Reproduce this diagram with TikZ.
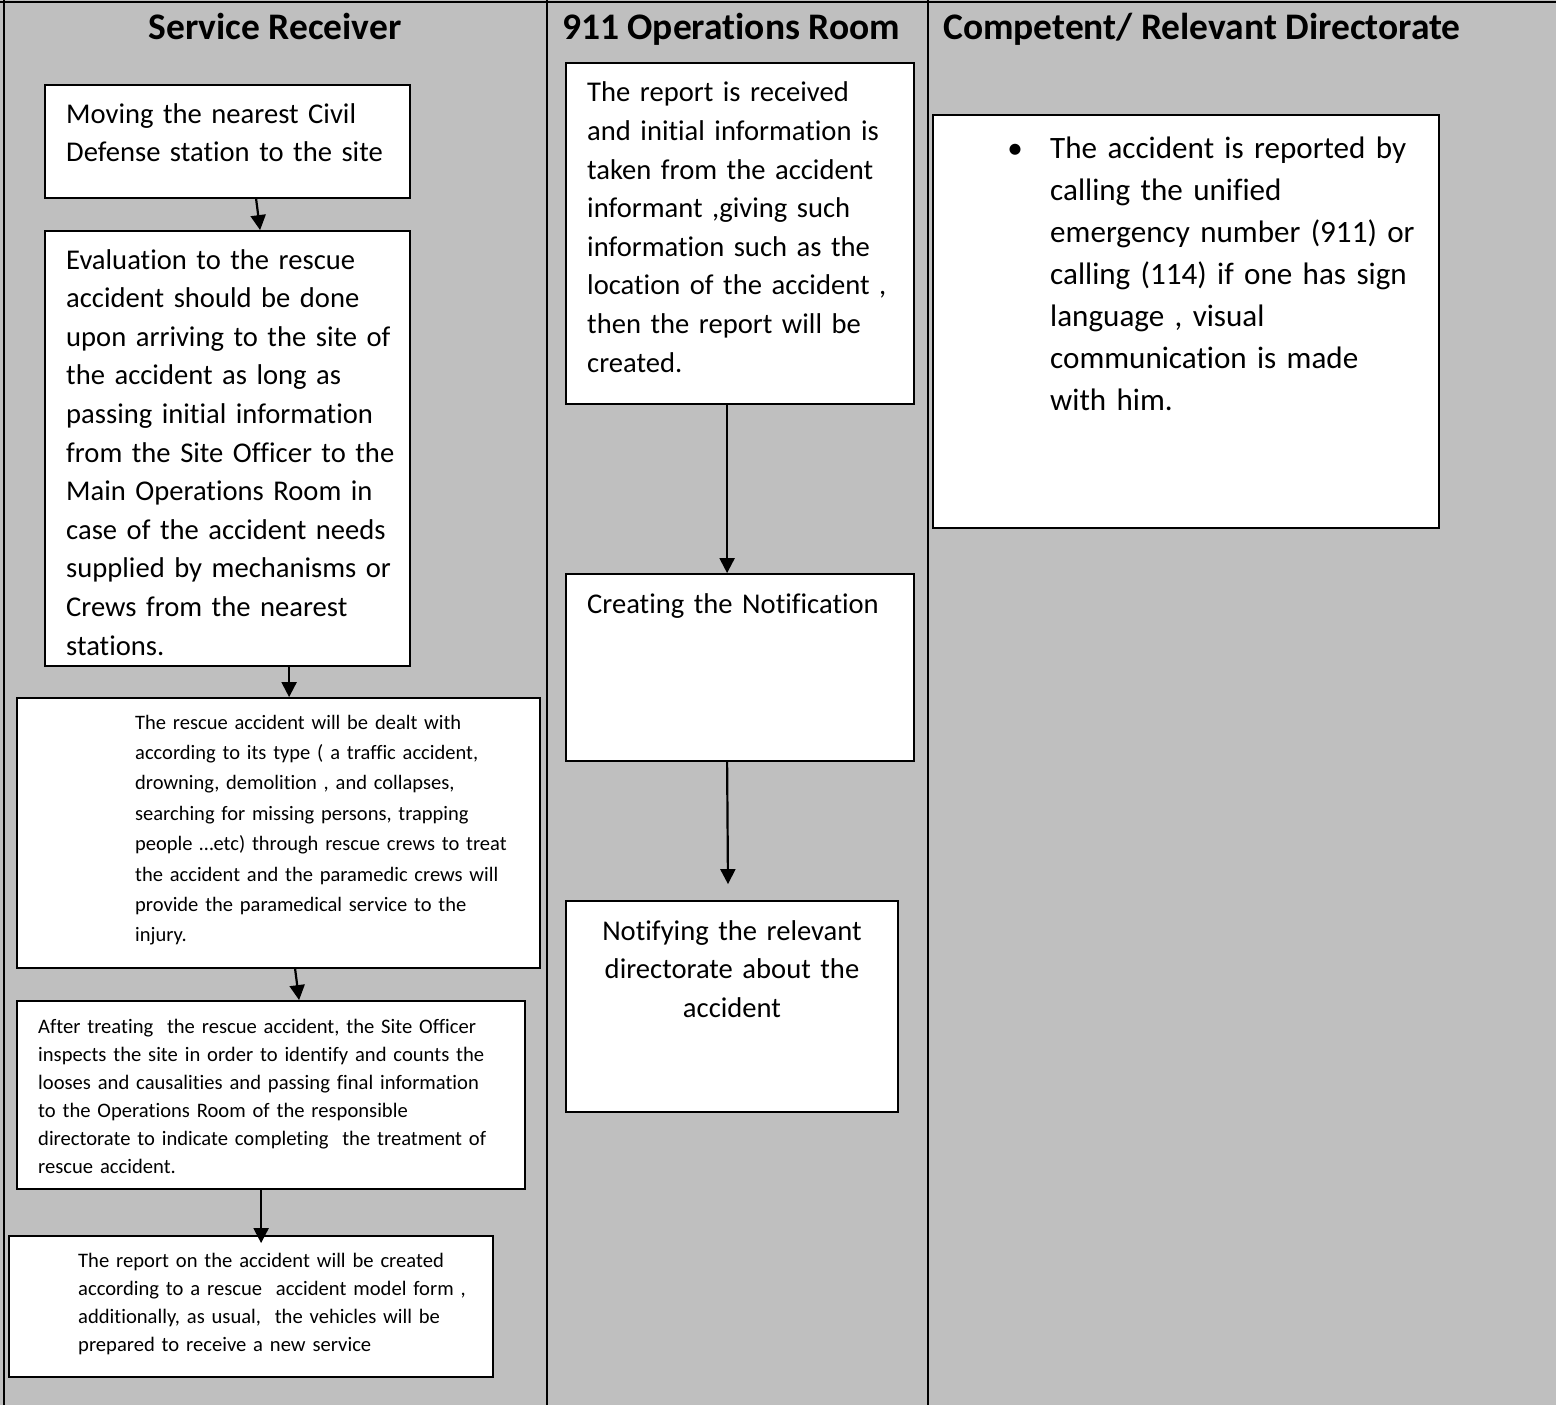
\documentclass[tikz,border=0pt]{standalone}
\usepackage{fontspec}
\setmainfont{Carlito}[Ligatures={NoCommon}]
\usetikzlibrary{arrows.meta,fit,calc}

\definecolor{lanegray}{RGB}{191,191,191}

\begin{document}
\begin{tikzpicture}[x=1pt,y=-1pt,
  lane/.style={draw=black,line width=2.6pt},
  procbox/.style={draw=black,line width=1.8pt,fill=white,inner sep=0pt},
  heading/.style={font=\fontsize{37.5}{44}\selectfont\bfseries,anchor=base,inner sep=0pt},
  bigtxt/.style={font=\fontsize{28.6}{38.6}\selectfont,anchor=base west,inner sep=0pt,align=left,text width=420pt},
  listtxt/.style={font=\fontsize{31.1}{42}\selectfont,anchor=base west,inner sep=0pt,align=left,text width=420pt},
  smalltxt/.style={font=\fontsize{20.5}{30.4}\selectfont,anchor=base west,inner sep=0pt,align=left,text width=500pt},
  smalltxtb/.style={font=\fontsize{20.6}{28}\selectfont,anchor=base west,inner sep=0pt,align=left,text width=500pt},
  flow/.style={draw=black,line width=2.2pt,-{Triangle[width=15pt,length=15pt]}}
]
% page and lane background
\useasboundingbox (0,0) rectangle (1556,1405);
\fill[lanegray] (0,0) rectangle (1556,1405);

% lane borders
\draw[lane] (0,2) -- (1556,2);
\draw[lane] (4,0) -- (4,1405);
\draw[lane] (547,0) -- (547,1405);
\draw[lane] (928,0) -- (928,1405);

% lane headings
\node[heading] (h1) at (275,40) {Service Receiver};
\node[heading] (h2) at (731,40) {911 Operations Room};
\node[heading] (h3) at (1202,40) {Competent/ Relevant Directorate};

% Service Receiver lane
\node[procbox,fit={(45,85) (410,198)}] (b1) {};
\node[bigtxt] (t1) at (66,123) {Moving the nearest Civil\\Defense station to the site};

\node[procbox,fit={(45,231) (410,666)}] (b2) {};
\node[bigtxt] (t2) at (66,269) {Evaluation to the rescue\\accident should be done\\upon arriving to the site of\\the accident as long as\\passing initial information\\from the Site Officer to the\\Main Operations Room in\\case of the accident needs\\supplied by mechanisms or\\Crews from the nearest\\stations.};

\node[procbox,fit={(17,698) (540,968)}] (b3) {};
\node[smalltxt] (t3) at (135,729) {The rescue accident will be dealt with\\according to its type ( a traffic accident,\\drowning, demolition , and collapses,\\searching for missing persons, trapping\\people \dots etc) through rescue crews to treat\\the accident and the paramedic crews will\\provide the paramedical service to the\\injury.};

\node[procbox,fit={(17,1001) (525,1189)}] (b4) {};
\node[smalltxtb] (t4) at (38,1033) {After treating\ \ the rescue accident, the Site Officer\\inspects the site in order to identify and counts the\\looses and causalities and passing final information\\to the Operations Room of the responsible\\directorate to indicate completing\ \ the treatment of\\rescue accident.};

\node[procbox,fit={(9,1236) (493,1377)}] (b5) {};
\node[smalltxtb] (t5) at (78,1267) {The report on the accident will be created\\according to a rescue\ \ accident model form ,\\additionally, as usual,\ \ the vehicles will be\\prepared to receive a new service};

% 911 Operations Room lane
\node[procbox,fit={(566,63) (914,404)}] (b6) {};
\node[bigtxt] (t6) at (587,102) {The report is received\\and initial information is\\taken from the accident\\informant ,giving such\\information such as the\\location of the accident ,\\then the report will be\\created.};

\node[procbox,fit={(566,574) (914,761)}] (b7) {};
\node[bigtxt] (t7) at (587,613) {Creating the Notification};

\node[procbox,fit={(566,901) (898,1112)}] (b8) {};
\node[bigtxt,anchor=base,align=center,text width=320pt] (t8) at (732,940) {Notifying the relevant\\directorate about the\\accident};

% Competent / Relevant Directorate lane
\node[procbox,fit={(933,115) (1439,528)}] (b9) {};
\node[listtxt,anchor=base,text width=] (bul) at (1015,158) {\textbullet};
\node[listtxt] (t9) at (1050,158) {The accident is reported by\\calling the unified\\emergency number (911) or\\calling (114) if one has sign\\language , visual\\communication is made\\with him.};

% connectors
\coordinate (end8) at ($(b8.north)+(-4,-16)$);
\draw[flow] ($(b1.south west)+(212,0)$) -- ($(b2.north west)+(216,0)$);
\draw[flow] ($(b2.south west)+(245,0)$) -- ($(b3.north west)+(273,0)$);
\draw[flow] ($(b3.south west)+(279,0)$) -- ($(b4.north west)+(283,0)$);
\draw[flow] ($(b4.south west)+(245,0)$) -- ($(b5.north west)+(253,8)$);
\draw[flow] ($(b6.south west)+(162,0)$) -- ($(b7.north west)+(162,0)$);
\draw[flow] ($(b7.south west)+(162,0)$) -- (end8);
\end{tikzpicture}
\end{document}
